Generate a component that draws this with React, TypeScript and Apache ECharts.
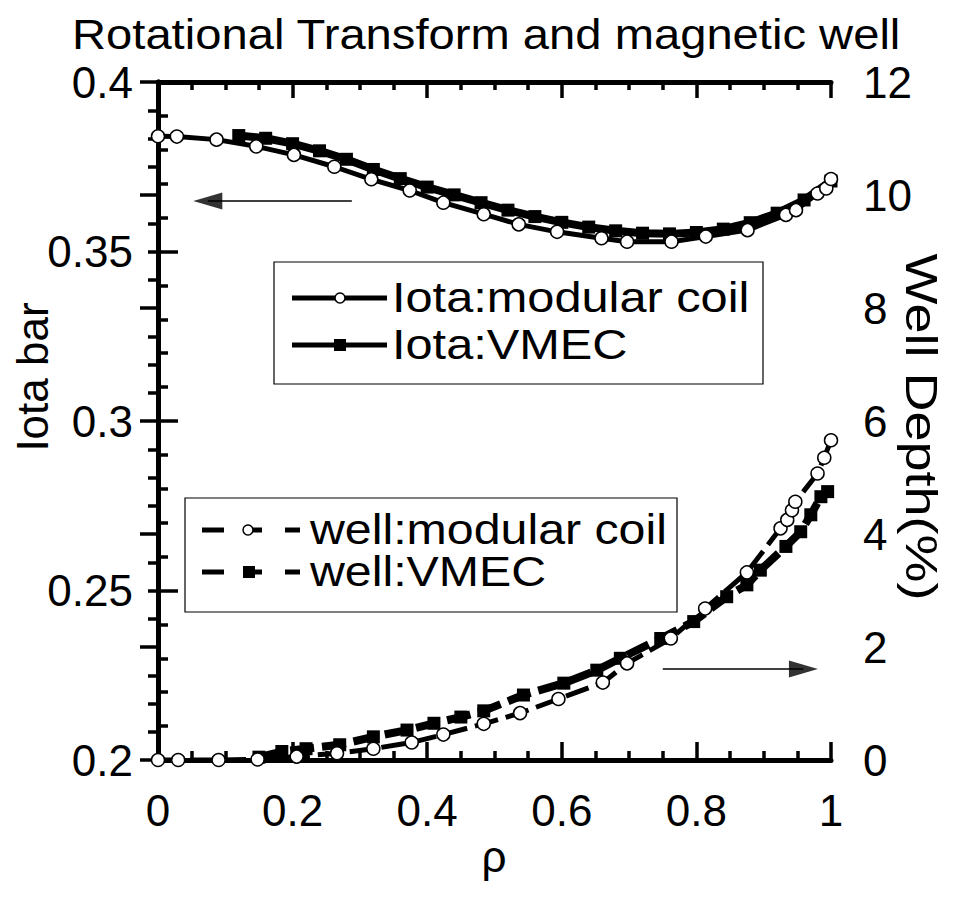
import React, { useEffect, useRef } from "react";
import * as echarts from "echarts";

// ---- data ----
const iotaCoilRho = [0, 0.028, 0.087, 0.146, 0.202, 0.262, 0.317, 0.374, 0.424, 0.484, 0.536, 0.593, 0.659, 0.697, 0.763, 0.814, 0.876, 0.933, 0.948, 0.98, 0.993, 1.0];
const iotaCoilVal = [0.384, 0.3839, 0.383, 0.381, 0.3785, 0.375, 0.3713, 0.368, 0.3644, 0.361, 0.358, 0.3558, 0.3539, 0.3529, 0.3529, 0.3544, 0.3563, 0.3608, 0.3622, 0.3671, 0.3686, 0.3714];

const iotaVmecRho = [0.12, 0.16, 0.2, 0.24, 0.28, 0.32, 0.36, 0.4, 0.44, 0.48, 0.52, 0.56, 0.6, 0.64, 0.68, 0.72, 0.76, 0.8, 0.84, 0.88, 0.92, 0.96, 1.0];
const iotaVmecVal = [0.3842, 0.3834, 0.3818, 0.3797, 0.3772, 0.3742, 0.3715, 0.369, 0.3667, 0.3644, 0.3622, 0.3603, 0.3586, 0.3572, 0.3561, 0.3554, 0.3552, 0.3556, 0.3566, 0.3585, 0.3613, 0.3652, 0.3708];

const wellCoilRho = [0, 0.03, 0.09, 0.148, 0.206, 0.266, 0.32, 0.377, 0.424, 0.484, 0.538, 0.595, 0.661, 0.697, 0.762, 0.813, 0.875, 0.925, 0.935, 0.942, 0.947, 0.98, 0.99, 1.0];
const wellCoilVal = [0, 0, 0, 0.01, 0.06, 0.12, 0.2, 0.31, 0.45, 0.64, 0.83, 1.08, 1.37, 1.71, 2.15, 2.68, 3.32, 4.1, 4.25, 4.42, 4.57, 5.07, 5.35, 5.66];

const wellVmecRho = [0.15, 0.184, 0.22, 0.27, 0.32, 0.37, 0.41, 0.45, 0.484, 0.543, 0.603, 0.652, 0.687, 0.747, 0.796, 0.845, 0.875, 0.895, 0.933, 0.955, 0.97, 0.985, 0.995];
const wellVmecVal = [0.05, 0.15, 0.2, 0.27, 0.41, 0.53, 0.65, 0.76, 0.87, 1.15, 1.36, 1.59, 1.8, 2.15, 2.45, 2.89, 3.1, 3.36, 3.78, 4.04, 4.34, 4.66, 4.75];

// annotation arrows (data coords)
const iotaArrowRho = [0.288, 0.074];
const iotaArrowVal = [0.3649, 0.3649];
const wellArrowRho = [0.75, 0.959];
const wellArrowVal = [1.61, 1.61];

const xTicks = [0, 0.2, 0.4, 0.6, 0.8, 1];
const leftTickLabels = ["0.2", "0.25", "0.3", "0.35", "0.4"];

const TITLE = "Rotational Transform and magnetic well";
const legendIota = ["Iota:modular coil", "Iota:VMEC"];
const legendWell = ["well:modular coil", "well:VMEC"];

const zip = (a: number[], b: number[]) => a.map((v, i) => [v, b[i]]);

const FONT = "'Liberation Sans', Arial, Helvetica, sans-serif";

export default function App() {
  const ref = useRef<HTMLDivElement>(null);
  useEffect(() => {
    if (!ref.current) return;
    document.body.style.margin = "0";
    const chart = echarts.init(ref.current, null, { renderer: "svg" });

    const axisLine = { show: true, lineStyle: { color: "#000", width: 5 } };
    const tickStyle = { color: "#000", width: 3.5 };

    const txt = (x: number, y: number, text: string, size: number, opts: any = {}) => ({
      type: "text",
      x,
      y,
      scaleX: opts.scaleX ?? 1,
      rotation: opts.rotation ?? 0,
      silent: true,
      style: {
        text,
        fontSize: size,
        fontFamily: FONT,
        fill: "#000",
        textAlign: opts.align ?? "left",
        align: opts.align ?? "left",
        textVerticalAlign: "middle",
        verticalAlign: "middle",
      },
    });

    const hline = (x1: number, x2: number, y: number) => ({
      type: "line",
      silent: true,
      shape: { x1, y1: y, x2, y2: y },
      style: { stroke: "#000", lineWidth: 5 },
    });

    const option: any = {
      animation: false,
      backgroundColor: "#fff",
      grid: { left: 158, right: 123, top: 82, bottom: 138, containLabel: false },
      xAxis: [
        {
          type: "value",
          position: "bottom",
          min: 0,
          max: 1,
          interval: 0.2,
          axisLine,
          axisTick: { show: true, inside: true, length: 18, lineStyle: tickStyle },
          minorTick: { show: true, splitNumber: 4, length: 9, lineStyle: tickStyle },
          splitLine: { show: false },
          axisLabel: {
            fontSize: 44,
            fontFamily: FONT,
            color: "#000",
            margin: 28,
            formatter: (v: number) => {
              const t = xTicks.find((k) => Math.abs(k - v) < 1e-6);
              return t === undefined ? "" : String(t);
            },
          },
        },
        {
          type: "value",
          position: "top",
          min: 0,
          max: 1,
          interval: 0.2,
          axisLine,
          axisTick: { show: true, inside: true, length: 16, lineStyle: tickStyle },
          minorTick: { show: true, splitNumber: 4, length: 8, lineStyle: tickStyle },
          splitLine: { show: false },
          axisLabel: { show: false },
        },
      ],
      yAxis: [
        {
          type: "value",
          position: "left",
          min: 0.2,
          max: 0.4,
          interval: 0.05,
          axisLine,
          axisTick: { show: true, inside: true, length: 20, lineStyle: tickStyle },
          minorTick: { show: true, splitNumber: 5, length: 10, lineStyle: tickStyle },
          splitLine: { show: false },
          axisLabel: {
            fontSize: 44,
            fontFamily: FONT,
            color: "#000",
            margin: 25,
            formatter: (v: number) => leftTickLabels[Math.round((v - 0.2) / 0.05)] ?? "",
          },
        },
        {
          type: "value",
          position: "right",
          min: 0,
          max: 12,
          interval: 2,
          axisLine,
          axisTick: { show: true, inside: true, length: 18, lineStyle: tickStyle },
          minorTick: { show: true, splitNumber: 4, length: 10, lineStyle: tickStyle },
          splitLine: { show: false },
          axisLabel: { fontSize: 44, fontFamily: FONT, color: "#000", margin: 32 },
        },
      ],
      series: [
        {
          name: "Iota:VMEC",
          type: "line",
          xAxisIndex: 0,
          yAxisIndex: 0,
          data: zip(iotaVmecRho, iotaVmecVal),
          symbol: "rect",
          symbolSize: 13,
          showAllSymbol: true,
          lineStyle: { color: "#000", width: 8 },
          itemStyle: { color: "#000" },
          z: 2,
        },
        {
          name: "Iota:modular coil",
          type: "line",
          xAxisIndex: 0,
          yAxisIndex: 0,
          data: zip(iotaCoilRho, iotaCoilVal),
          symbol: "circle",
          symbolSize: 13,
          showAllSymbol: true,
          lineStyle: { color: "#000", width: 5 },
          itemStyle: { color: "#fff", borderColor: "#000", borderWidth: 1.5 },
          z: 3,
        },
        {
          name: "well:VMEC",
          type: "line",
          xAxisIndex: 0,
          yAxisIndex: 1,
          data: zip(wellVmecRho, wellVmecVal),
          symbol: "rect",
          symbolSize: 13,
          showAllSymbol: true,
          lineStyle: { color: "#000", width: 8, type: [24, 8] },
          itemStyle: { color: "#000" },
          z: 2,
        },
        {
          name: "well:modular coil",
          type: "line",
          xAxisIndex: 0,
          yAxisIndex: 1,
          data: zip(wellCoilRho, wellCoilVal),
          symbol: "circle",
          symbolSize: 13,
          showAllSymbol: true,
          lineStyle: { color: "#000", width: 5, type: [24, 8] },
          itemStyle: { color: "#fff", borderColor: "#000", borderWidth: 1.5 },
          z: 3,
        },
        {
          name: "iotaArrow",
          type: "line",
          xAxisIndex: 0,
          yAxisIndex: 0,
          data: zip(iotaArrowRho, iotaArrowVal),
          symbol: "none",
          lineStyle: { color: "#000", width: 1.5 },
          z: 1,
        },
        {
          name: "iotaArrowHead",
          type: "scatter",
          xAxisIndex: 0,
          yAxisIndex: 0,
          data: [[iotaArrowRho[1], iotaArrowVal[1]]],
          symbol: "triangle",
          symbolSize: [17, 29],
          symbolRotate: 90,
          itemStyle: { color: "#000" },
          z: 1,
        },
        {
          name: "wellArrow",
          type: "line",
          xAxisIndex: 0,
          yAxisIndex: 1,
          data: zip(wellArrowRho, wellArrowVal),
          symbol: "none",
          lineStyle: { color: "#000", width: 1.5 },
          z: 1,
        },
        {
          name: "wellArrowHead",
          type: "scatter",
          xAxisIndex: 0,
          yAxisIndex: 1,
          data: [[wellArrowRho[1], wellArrowVal[1]]],
          symbol: "triangle",
          symbolSize: [17, 29],
          symbolRotate: -90,
          itemStyle: { color: "#000" },
          z: 1,
        },
      ],
      graphic: [
        txt(72, 34, TITLE, 43, { scaleX: 1.097 }),
        txt(32, 377, "Iota bar", 44, { align: "center", rotation: Math.PI / 2 }),
        txt(921, 427, "Well Depth(%)", 45, { align: "center", rotation: -Math.PI / 2, scaleX: 1.2 }),
        txt(494, 856, "ρ", 44, { align: "center" }),
        // iota legend
        {
          type: "rect",
          silent: true,
          shape: { x: 274, y: 262, width: 489, height: 122 },
          style: { fill: "#fff", stroke: "#000", lineWidth: 1.2 },
          z: 10,
        },
        { ...hline(292, 387, 298), z: 11 },
        {
          type: "circle",
          silent: true,
          shape: { cx: 340, cy: 298, r: 5 },
          style: { fill: "#fff", stroke: "#000", lineWidth: 1.5 },
          z: 12,
        },
        { ...txt(392, 298, legendIota[0], 42, { scaleX: 1.16 }), z: 11 },
        { ...hline(292, 387, 345), z: 11 },
        {
          type: "rect",
          silent: true,
          shape: { x: 334, y: 339, width: 12, height: 12 },
          style: { fill: "#000" },
          z: 12,
        },
        { ...txt(392, 345, legendIota[1], 42, { scaleX: 1.16 }), z: 11 },
        // well legend
        {
          type: "rect",
          silent: true,
          shape: { x: 185, y: 498, width: 492, height: 114 },
          style: { fill: "#fff", stroke: "#000", lineWidth: 1.2 },
          z: 10,
        },
        { ...hline(202, 224, 530), z: 11 },
        { ...hline(244, 262, 530), z: 11 },
        { ...hline(285, 300, 530), z: 11 },
        {
          type: "circle",
          silent: true,
          shape: { cx: 248, cy: 530, r: 5 },
          style: { fill: "#fff", stroke: "#000", lineWidth: 1.5 },
          z: 12,
        },
        { ...txt(310, 530, legendWell[0], 42, { scaleX: 1.15 }), z: 11 },
        { ...hline(202, 224, 572), z: 11 },
        { ...hline(244, 262, 572), z: 11 },
        { ...hline(285, 300, 572), z: 11 },
        {
          type: "rect",
          silent: true,
          shape: { x: 243, y: 566, width: 12, height: 12 },
          style: { fill: "#000" },
          z: 12,
        },
        { ...txt(310, 572, legendWell[1], 42, { scaleX: 1.15 }), z: 11 },
      ],
    };

    chart.setOption(option);
    return () => chart.dispose();
  }, []);

  return <div ref={ref} style={{ width: 954, height: 898 }} />;
}
